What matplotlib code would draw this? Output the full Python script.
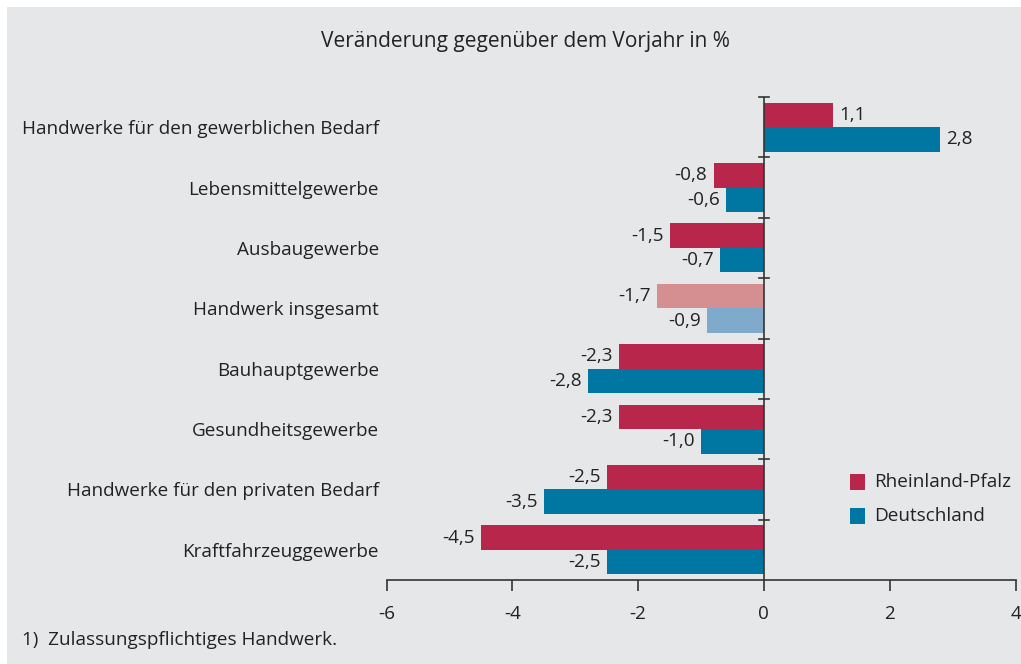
import numpy as np
import matplotlib.pyplot as plt
from matplotlib.patches import Rectangle

# daten
kategorien = ['Handwerke für den gewerblichen Bedarf', 'Lebensmittelgewerbe', 'Ausbaugewerbe',
              'Handwerk insgesamt', 'Bauhauptgewerbe', 'Gesundheitsgewerbe',
              'Handwerke für den privaten Bedarf', 'Kraftfahrzeuggewerbe']
rlp = [1.1, -0.8, -1.5, -1.7, -2.3, -2.3, -2.5, -4.5]
de = [2.8, -0.6, -0.7, -0.9, -2.8, -1.0, -3.5, -2.5]
hervorgehoben = 'Handwerk insgesamt'
xticks = [-6, -4, -2, 0, 2, 4]

rot, blau = '#b8274b', '#0076a3'
rot_hell, blau_hell = '#d68f90', '#80aacc'
grau = '#e6e7e9'
txt = '#222222'

plt.rcParams['font.family'] = ['Open Sans', 'DejaVu Sans']
fs = 13.6

fig = plt.figure(figsize=(10.21, 6.64), dpi=100, facecolor='white')
fig.patches.append(Rectangle((7 / 1021, 0), 1, (664 - 7) / 664, transform=fig.transFigure,
                             facecolor=grau, edgecolor='none', zorder=-10))

ax = fig.add_axes([386.5 / 1021, 84 / 664, 629 / 1021, 483 / 664])
ax.set_facecolor('none')

h = 0.405
y = np.arange(len(kategorien)) + 0.5
for i, k in enumerate(kategorien):
    c1, c2 = (rot_hell, blau_hell) if k == hervorgehoben else (rot, blau)
    ax.barh(y[i] - h / 2, rlp[i], height=h, color=c1, zorder=2)
    ax.barh(y[i] + h / 2, de[i], height=h, color=c2, zorder=2)
    for v, yy in ((rlp[i], y[i] - h / 2), (de[i], y[i] + h / 2)):
        lab = f'{v:.1f}'.replace('.', ',')
        if v >= 0:
            ax.text(v + 0.1, yy, lab, ha='left', va='center', fontsize=fs, color=txt)
        else:
            ax.text(v - 0.1, yy, lab, ha='right', va='center', fontsize=fs, color=txt)

ax.set_xlim(-6, 4)
ax.set_ylim(len(kategorien), 0)

# nulllinie mit strichen
ax.axvline(0, color='#333333', lw=1.2, zorder=3)
for b in range(len(kategorien)):
    ax.plot([-0.08, 0.08], [b, b], color='#333333', lw=1.2, zorder=3, clip_on=False)

for s in ['top', 'right', 'left']:
    ax.spines[s].set_visible(False)
ax.spines['bottom'].set_color('#333333')
ax.spines['bottom'].set_linewidth(1.2)
ax.set_xticks(xticks)
ax.set_xticklabels([str(t) for t in xticks], fontsize=fs, color=txt)
ax.tick_params(axis='x', direction='out', length=8, width=1.2, color='#333333', pad=10)
ax.set_yticks(y)
ax.set_yticklabels(kategorien, fontsize=fs, color=txt)
ax.tick_params(axis='y', length=0, pad=5.5)

# legende
for j, (name, c) in enumerate([('Rheinland-Pfalz', rot), ('Deutschland', blau)]):
    yy = 482 + j * 34
    fig.patches.append(Rectangle((850 / 1021, 1 - (yy + 8) / 664), 15 / 1021, 16 / 664,
                                 transform=fig.transFigure, facecolor=c, edgecolor='none'))
    fig.text(874 / 1021, 1 - yy / 664, name, ha='left', va='center', fontsize=fs, color=txt)

fig.text(525 / 1021, 1 - 42 / 664, 'Veränderung gegenüber dem Vorjahr in %', ha='center',
         va='center', fontsize=15, color=txt)
fig.text(22 / 1021, 1 - 640 / 664, '1)  Zulassungspflichtiges Handwerk.', ha='left',
         va='center', fontsize=fs, color=txt)

fig.savefig('out.png', dpi=100, facecolor=fig.get_facecolor())
